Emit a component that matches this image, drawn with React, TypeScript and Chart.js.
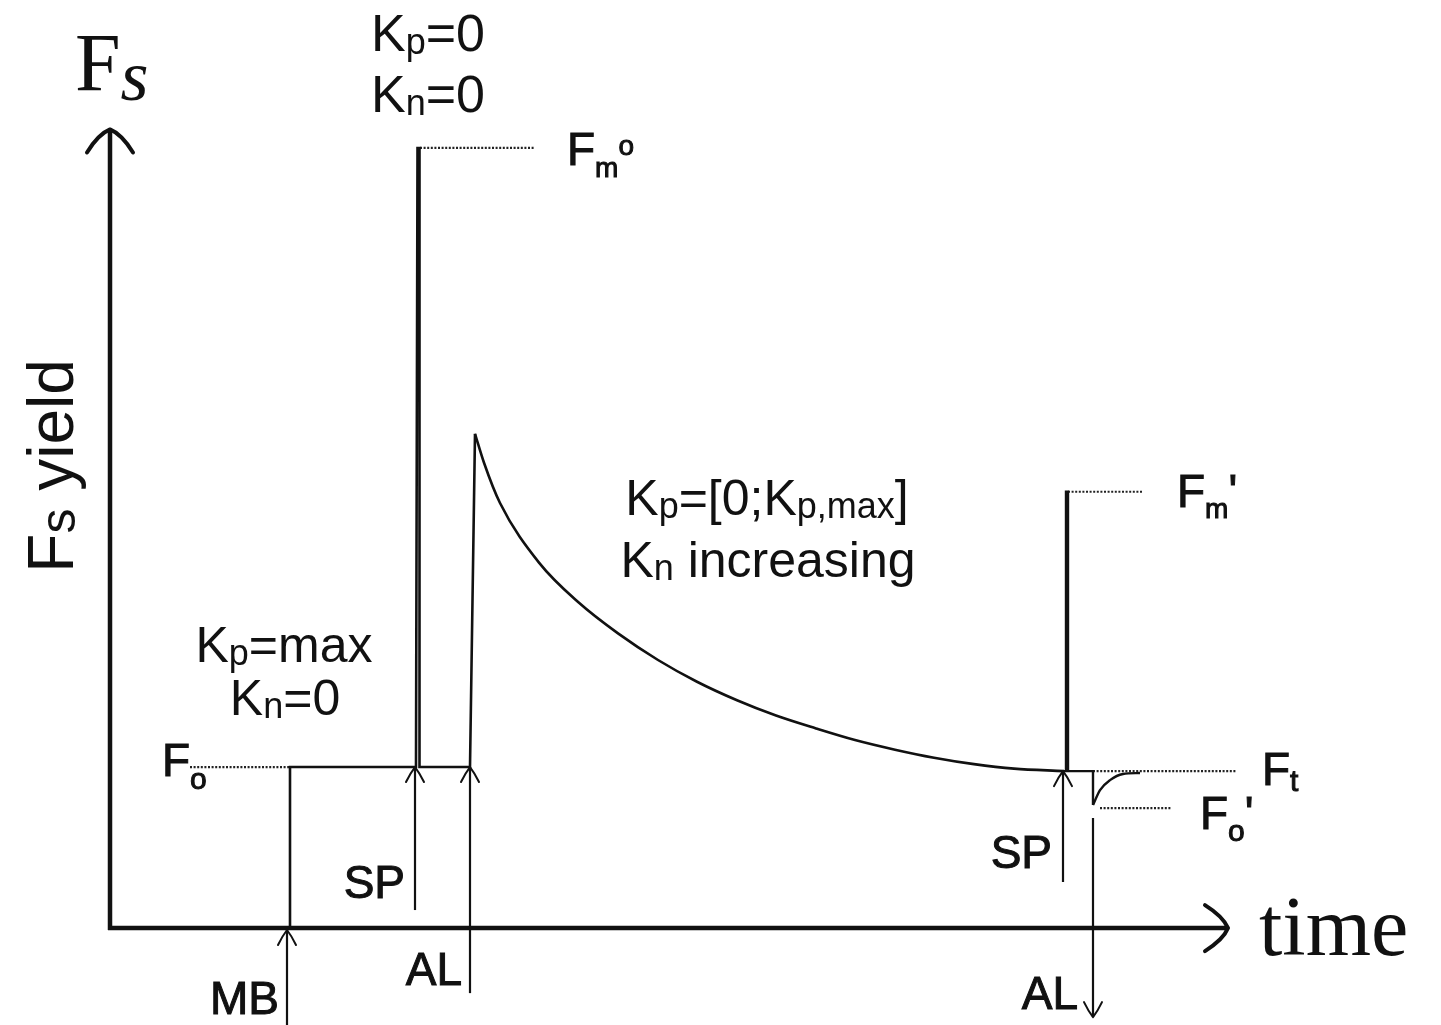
import React, { useEffect, useRef } from "react";
import { Chart, registerables } from "chart.js";

Chart.register(...registerables);

// ---------- data (time in arbitrary units, yield relative to Fo) ----------
const riseTime = [18, 18, 30.6, 30.75, 30.95, 30.95, 36.0, 36.5];
const riseYield = [0, 1.0, 1.0, 4.845, 4.845, 1.0, 1.0, 3.07];

const decayTime = [36.5, 37.4, 39.0, 42.9, 46.9, 50.8, 54.8, 58.7, 62.7, 66.6, 70.6, 74.5, 78.5, 82.4, 86.4, 90.4, 95.4];
const decayYield = [3.07, 2.89, 2.64, 2.27, 2.02, 1.83, 1.665, 1.53, 1.415, 1.32, 1.24, 1.168, 1.108, 1.058, 1.018, 0.99, 0.975];

const pulseTraceTime = [95.4, 95.6, 95.6, 95.8, 95.8, 98.3, 98.3];
const pulseTraceYield = [0.975, 0.975, 2.71, 2.71, 0.975, 0.975, 0.764];

const recoveryTime = [98.3, 99.0, 100.0, 101.3, 103.0];
const recoveryYield = [0.764, 0.857, 0.919, 0.957, 0.963];

const refNames = ["Fo", "Fm°", "Fm'", "Ft", "Fo'"];
const refYield = [1.0, 4.845, 2.71, 0.975, 0.745];
const refFrom = [8.0, 31.0, 95.8, 98.3, 99.0];
const refTo = [18.0, 42.5, 103.3, 112.7, 106.2];

const pulseNames = ["MB", "SP", "AL", "SP", "AL"];
const pulseTime = [17.7, 30.5, 36.0, 95.3, 98.3];
const pulseFrom = [-0.61, 0.112, -0.404, 0.286, 0.683];
const pulseTo = [-0.012, 1.0, 1.0, 0.975, -0.553];

const axisTimeEnd = 111.8;
const axisYieldEnd = 4.96;

const X_MIN = -11;
const X_MAX = 133.1;
const Y_MIN = -0.602;
const Y_MAX = 5.764;

const INK = "#111111";
const SANS = '"Liberation Sans", Arial, sans-serif';
const SERIF = '"Liberation Serif", "Times New Roman", serif';

type Run = { t: string; size: number; dy?: number; italic?: boolean; family?: string };
type Label = { x: number; y: number; align: "left" | "center" | "right"; runs: Run[]; stroke?: number; rotate?: number };

const labels: Label[] = [
  { x: -3.5, y: 5.205, align: "left", runs: [{ t: "F", size: 82, family: SERIF }, { t: "s", size: 72, italic: true, dy: 10, family: SERIF }] },
  { x: 114.9, y: -0.168, align: "left", runs: [{ t: "time", size: 84, family: SERIF }] },
  { x: -3.7, y: 2.87, align: "center", rotate: -Math.PI / 2, runs: [{ t: "F", size: 64 }, { t: "s", size: 50, dy: 2 }, { t: " yield", size: 64 }] },
  { x: 31.8, y: 5.447, align: "center", runs: [{ t: "K", size: 52 }, { t: "p", size: 36, dy: 3 }, { t: "=0", size: 52 }] },
  { x: 31.8, y: 5.068, align: "center", runs: [{ t: "K", size: 52 }, { t: "n", size: 36, dy: 3 }, { t: "=0", size: 52 }] },
  { x: 65.7, y: 2.565, align: "center", runs: [{ t: "K", size: 50 }, { t: "p", size: 36, dy: 3 }, { t: "=[0;K", size: 50 }, { t: "p,max", size: 36, dy: 3 }, { t: "]", size: 50 }] },
  { x: 65.8, y: 2.18, align: "center", runs: [{ t: "K", size: 50 }, { t: "n", size: 36, dy: 3 }, { t: " increasing", size: 50 }] },
  { x: 17.4, y: 1.652, align: "center", runs: [{ t: "K", size: 50 }, { t: "p", size: 36, dy: 3 }, { t: "=max", size: 50 }] },
  { x: 17.5, y: 1.323, align: "center", runs: [{ t: "K", size: 50 }, { t: "n", size: 36, dy: 3 }, { t: "=0", size: 50 }] },
  { x: 5.2, y: 0.944, align: "left", stroke: 1, runs: [{ t: "F", size: 46 }, { t: "o", size: 30, dy: 13 }] },
  { x: 45.7, y: 4.739, align: "left", stroke: 1, runs: [{ t: "F", size: 46 }, { t: "m", size: 28, dy: 12 }, { t: "o", size: 28, dy: -10 }] },
  { x: 106.7, y: 2.615, align: "left", stroke: 1, runs: [{ t: "F", size: 46 }, { t: "m", size: 28, dy: 11 }, { t: "'", size: 46 }] },
  { x: 115.2, y: 0.888, align: "left", stroke: 1, runs: [{ t: "F", size: 46 }, { t: "t", size: 30, dy: 6 }] },
  { x: 109.0, y: 0.615, align: "left", stroke: 1, runs: [{ t: "F", size: 46 }, { t: "o", size: 30, dy: 12 }, { t: "'", size: 46 }] },
  { x: 29.5, y: 0.186, align: "right", stroke: 1, runs: [{ t: pulseNames[1], size: 46 }] },
  { x: 35.2, y: -0.354, align: "right", stroke: 1, runs: [{ t: pulseNames[2], size: 46 }] },
  { x: 16.9, y: -0.534, align: "right", stroke: 1, runs: [{ t: pulseNames[0], size: 46 }] },
  { x: 94.2, y: 0.373, align: "right", stroke: 1, runs: [{ t: pulseNames[3], size: 46 }] },
  { x: 96.8, y: -0.503, align: "right", stroke: 1, runs: [{ t: pulseNames[4], size: 46 }] },
];

function pts(xs: number[], ys: number[]) {
  return xs.map((x, i) => ({ x, y: ys[i] }));
}

function drawHead(ctx: CanvasRenderingContext2D, tx: number, ty: number, dx: number, dy: number, L: number, W: number, lw: number, bulge: number) {
  const nx = -dy;
  const ny = dx;
  ctx.save();
  ctx.lineWidth = lw;
  ctx.lineCap = "round";
  ctx.lineJoin = "round";
  ctx.strokeStyle = INK;
  ctx.beginPath();
  for (const s of [-1, 1]) {
    const wx = tx - dx * L + s * nx * W;
    const wy = ty - dy * L + s * ny * W;
    const mx = tx - dx * L * 0.5 + s * nx * W * 0.5;
    const my = ty - dy * L * 0.5 + s * ny * W * 0.5;
    const cx = mx + dx * L * bulge;
    const cy = my + dy * L * bulge;
    ctx.moveTo(wx, wy);
    ctx.quadraticCurveTo(cx, cy, tx, ty);
  }
  ctx.stroke();
  ctx.restore();
}

function drawRuns(ctx: CanvasRenderingContext2D, lab: Label, x: number, y: number) {
  const fontOf = (r: Run) => `${r.italic ? "italic " : ""}${r.size}px ${r.family || SANS}`;
  ctx.save();
  ctx.translate(x, y);
  if (lab.rotate) ctx.rotate(lab.rotate);
  ctx.textBaseline = "alphabetic";
  ctx.textAlign = "left";
  ctx.fillStyle = INK;
  ctx.strokeStyle = INK;
  const widths = lab.runs.map((r) => {
    ctx.font = fontOf(r);
    return ctx.measureText(r.t).width;
  });
  const total = widths.reduce((a, b) => a + b, 0);
  let cx = lab.align === "left" ? 0 : lab.align === "center" ? -total / 2 : -total;
  lab.runs.forEach((r, i) => {
    ctx.font = fontOf(r);
    ctx.fillText(r.t, cx, r.dy || 0);
    if (lab.stroke) {
      ctx.lineWidth = lab.stroke;
      ctx.strokeText(r.t, cx, r.dy || 0);
    }
    cx += widths[i];
  });
  ctx.restore();
}

const overlayPlugin = {
  id: "overlay",
  afterDatasetsDraw(chart: any) {
    const ctx: CanvasRenderingContext2D = chart.ctx;
    const xs = chart.scales.x;
    const ys = chart.scales.y;
    const px = (v: number) => xs.getPixelForValue(v);
    const py = (v: number) => ys.getPixelForValue(v);
    // axis arrowheads
    drawHead(ctx, px(axisTimeEnd), py(0), 1, 0, 23, 23, 4, 0.3);
    drawHead(ctx, px(0), py(axisYieldEnd), 0, -1, 23, 23, 4, 0.3);
    // pulse arrowheads
    pulseTime.forEach((t, i) => {
      const dir = pulseTo[i] > pulseFrom[i] ? -1 : 1;
      drawHead(ctx, px(t), py(pulseTo[i]), 0, dir, 15, 9, 2, 0.12);
    });
    labels.forEach((lab) => drawRuns(ctx, lab, px(lab.x), py(lab.y)));
  },
};

export default function App() {
  const ref = useRef<HTMLCanvasElement | null>(null);
  useEffect(() => {
    if (!ref.current) return;
    const solid = (data: any[], width: number, extra: any = {}) => ({
      data,
      showLine: true,
      borderColor: INK,
      backgroundColor: INK,
      borderWidth: width,
      pointRadius: 0,
      tension: 0,
      fill: false,
      clip: false,
      borderCapStyle: "butt",
      borderJoinStyle: "miter",
      ...extra,
    });
    const datasets: any[] = [
      solid(pts([-0.2, axisTimeEnd - 0.15], [0, 0]), 4.5),
      solid(pts([0, 0], [-0.012, axisYieldEnd - 0.01]), 4.5),
      solid(pts(riseTime, riseYield), 2.6),
      solid(pts(decayTime, decayYield), 2.6, { cubicInterpolationMode: "monotone" }),
      solid(pts(pulseTraceTime, pulseTraceYield), 2.4),
      solid(pts(recoveryTime, recoveryYield), 2.4, { cubicInterpolationMode: "monotone" }),
    ];
    refNames.forEach((n, i) => {
      datasets.push(
        solid(pts([refFrom[i], refTo[i]], [refYield[i], refYield[i]]), 2.2, { borderDash: [2, 1.6], borderColor: "#222222", label: n })
      );
    });
    pulseNames.forEach((n, i) => {
      datasets.push(solid(pts([pulseTime[i], pulseTime[i]], [pulseFrom[i], pulseTo[i]]), 2.2, { label: n }));
    });
    const chart = new Chart(ref.current, {
      type: "scatter",
      data: { datasets },
      options: {
        animation: false,
        responsive: false,
        devicePixelRatio: 1,
        layout: { padding: 0 },
        plugins: { legend: { display: false }, tooltip: { enabled: false } },
        events: [],
        scales: {
          x: { type: "linear", min: X_MIN, max: X_MAX, display: false },
          y: { type: "linear", min: Y_MIN, max: Y_MAX, display: false },
        },
      } as any,
      plugins: [overlayPlugin],
    });
    return () => chart.destroy();
  }, []);
  return (
    <canvas
      ref={ref}
      width={1441}
      height={1025}
      style={{ position: "absolute", left: 0, top: 0, width: 1441, height: 1025, background: "#ffffff" }}
    />
  );
}
